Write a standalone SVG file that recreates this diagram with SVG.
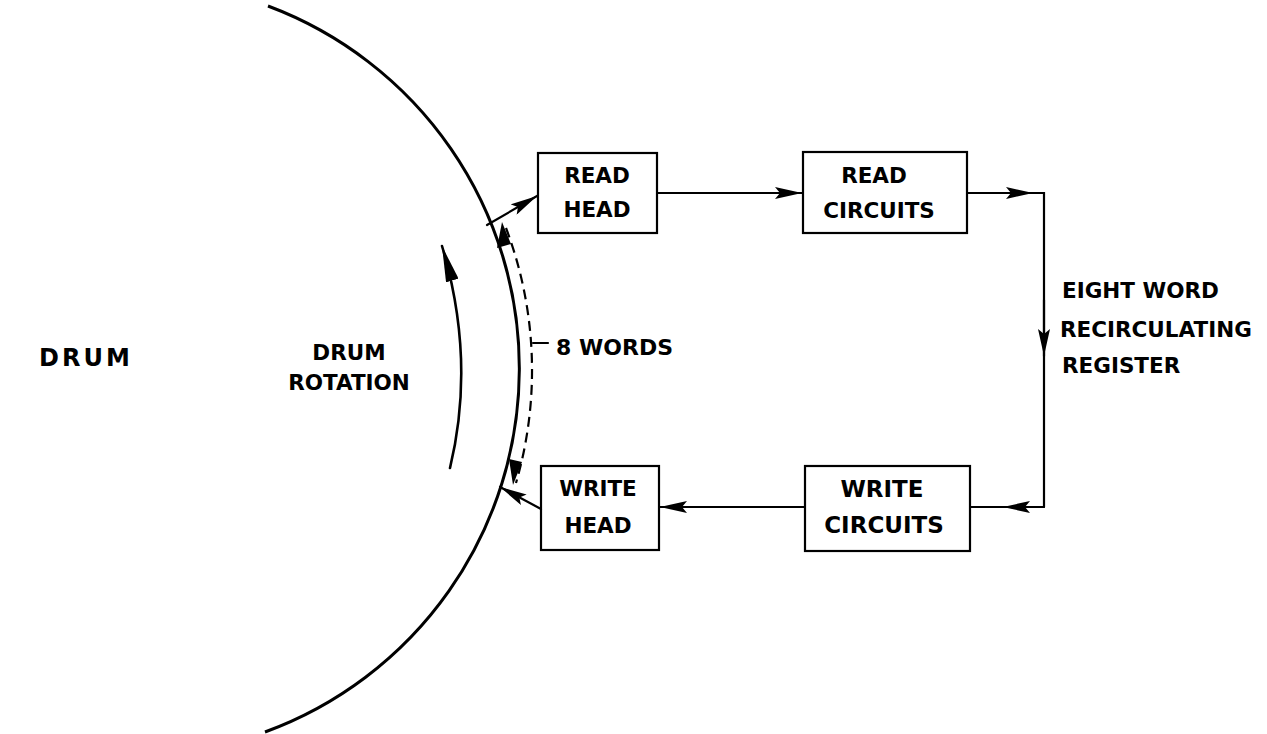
<svg xmlns="http://www.w3.org/2000/svg" width="1267" height="734" viewBox="0 0 1267 734">
<defs>
<style>
.ln{fill:none;stroke:#000;stroke-width:2.2;stroke-linecap:round}
.drum{fill:none;stroke:#000;stroke-width:3}
.dash{fill:none;stroke:#000;stroke-width:2.2;stroke-dasharray:10 6}
.box{fill:#fff;stroke:#000;stroke-width:2.2}
text{font-family:"DejaVu Sans","Liberation Sans",sans-serif;font-weight:bold;font-size:21.5px;fill:#000}
.c{text-anchor:middle}
</style>
<marker id="ah" viewBox="0 0 27 12" refX="27" refY="6" markerWidth="27" markerHeight="12" markerUnits="userSpaceOnUse" orient="auto">
<path d="M0,0 L27,6 L0,12 L5,6 Z" fill="#000"/>
</marker>
<marker id="ahs" viewBox="0 0 36 13" refX="36" refY="6.5" markerWidth="36" markerHeight="13" markerUnits="userSpaceOnUse" orient="auto">
<path d="M0,0 L36,6.5 L0,13 Z" fill="#000"/>
</marker>
</defs>
<rect width="1267" height="734" fill="#fff"/>
<g id="drum">
<path class="drum" d="M268,6 A387,387 0 0 1 265,732"/>
<text x="86" y="366" class="c" style="font-size:24px;letter-spacing:3px">DRUM</text>
</g>
<g id="rotation">
<path class="ln" style="stroke-width:2.6" d="M450,468 Q476,360 442,246" marker-end="url(#ahs)"/>
<text x="349" y="360" class="c">DRUM</text>
<text x="349" y="390" class="c">ROTATION</text>
</g>
<g id="words">
<path class="dash" d="M506,228 A403,403 0 0 1 516,483"/>
<path d="M502,222 L497,248 L511,244 Z" fill="#000"/>
<path d="M513,485 L509,459 L522,462 Z" fill="#000"/>
<line class="ln" x1="533" y1="343" x2="548" y2="343"/>
<text x="556" y="355" style="font-size:22px">8 WORDS</text>
</g>
<g id="read-head">
<rect class="box" x="538" y="153" width="119" height="80"/>
<text x="597" y="183" class="c">READ</text>
<text x="597" y="217" class="c">HEAD</text>
</g>
<g id="read-circuits">
<rect class="box" x="803" y="152" width="164" height="81"/>
<text x="874" y="183" class="c">READ</text>
<text x="879" y="218" class="c">CIRCUITS</text>
</g>
<g id="write-head">
<rect class="box" x="541" y="466" width="118" height="84"/>
<text x="598" y="496" class="c">WRITE</text>
<text x="598" y="533" class="c">HEAD</text>
</g>
<g id="write-circuits">
<rect class="box" x="805" y="466" width="165" height="85"/>
<text x="882" y="497" class="c" style="font-size:23px">WRITE</text>
<text x="884" y="533" class="c" style="font-size:23px">CIRCUITS</text>
</g>
<g id="register">
<text x="1062" y="298">EIGHT WORD</text>
<text x="1060" y="337">RECIRCULATING</text>
<text x="1062" y="373">REGISTER</text>
</g>
<g id="connectors">
<line class="ln" x1="487" y1="225" x2="537" y2="196" marker-end="url(#ah)"/>
<line class="ln" x1="657" y1="193" x2="802" y2="193" marker-end="url(#ah)"/>
<line class="ln" x1="967" y1="193" x2="1033" y2="193" marker-end="url(#ah)"/>
<path class="ln" d="M1030,193 L1044,193 L1044,507"/>
<line class="ln" x1="1044" y1="300" x2="1044" y2="356" marker-end="url(#ah)"/>
<line class="ln" x1="1044" y1="507" x2="1003" y2="507" marker-end="url(#ah)"/>
<line class="ln" x1="1006" y1="507" x2="970" y2="507"/>
<line class="ln" x1="805" y1="507" x2="660" y2="507" marker-end="url(#ah)"/>
<line class="ln" x1="541" y1="509" x2="500" y2="487" marker-end="url(#ah)"/>
</g>
</svg>
